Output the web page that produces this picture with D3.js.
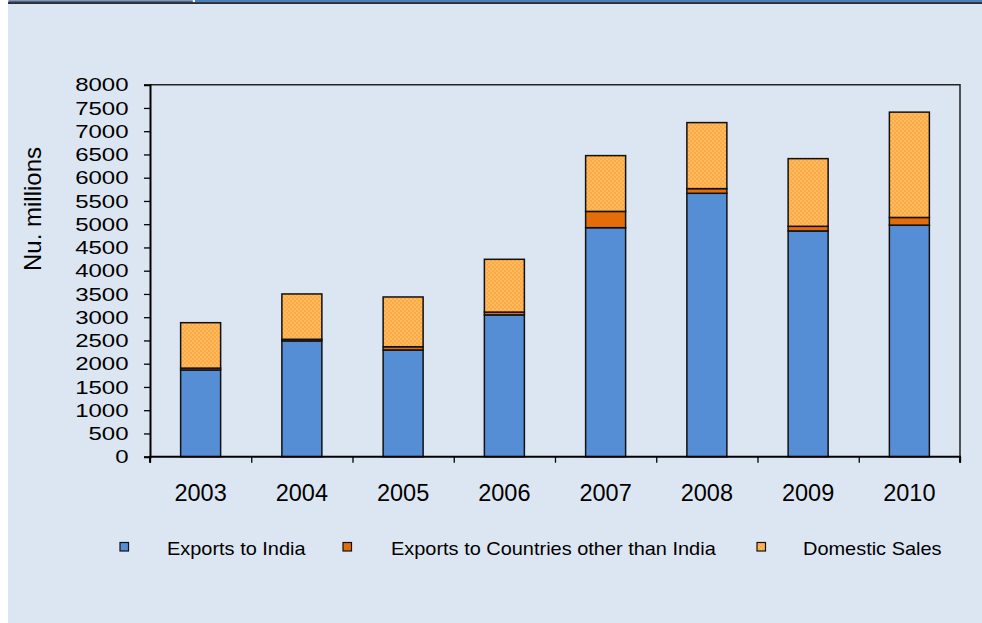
<!DOCTYPE html>
<html><head><meta charset="utf-8">
<script src="https://cdn.jsdelivr.net/npm/d3@7/dist/d3.min.js"></script>
<style>body{margin:0;background:#fff}svg{display:block}text{font-family:"Liberation Sans",Arial,sans-serif;fill:#000}</style>
</head><body><svg id="c" width="982" height="623"></svg>
<script>
const years = ["2003","2004","2005","2006","2007","2008","2009","2010"];
const exportsIndia = [1865, 2490, 2295, 3050, 4925, 5665, 4855, 4980];
const exportsOther = [40, 35, 70, 60, 350, 100, 100, 165];
const domesticSales = [977, 975, 1070, 1135, 1200, 1420, 1455, 2265];
const seriesNames = ["Exports to India", "Exports to Countries other than India", "Domestic Sales"];
const yTicks = d3.range(0, 8001, 500);

const svg = d3.select("#c");
const defs = svg.append("defs");
const pat = defs.append("pattern").attr("id","dots").attr("width",4).attr("height",4).attr("patternUnits","userSpaceOnUse");
pat.append("rect").attr("width",4).attr("height",4).attr("fill","#fbaa45");
pat.append("rect").attr("x",0).attr("y",0).attr("width",2).attr("height",2).attr("fill","#ffb95e");
pat.append("rect").attr("x",2).attr("y",2).attr("width",2).attr("height",2).attr("fill","#ffb95e");

// background
svg.append("rect").attr("width",982).attr("height",623).attr("fill","#fff");
svg.append("rect").attr("x",8).attr("y",0).attr("width",974).attr("height",623).attr("fill","#dce6f2");
svg.append("rect").attr("x",195).attr("y",0).attr("width",787).attr("height",2.3).attr("fill","#4a7ebb");
svg.append("rect").attr("x",8).attr("y",0).attr("width",186).attr("height",2.3).attr("fill","#17375e");
svg.append("rect").attr("x",8.5).attr("y",0.3).attr("width",184.5).attr("height",1.7).attr("fill","none").attr("stroke","#c8d4e8").attr("stroke-width",0.6);
svg.append("rect").attr("x",193).attr("y",0).attr("width",1.6).attr("height",2.3).attr("fill","#fff");
svg.append("rect").attr("x",8).attr("y",2.3).attr("width",974).attr("height",1.5).attr("fill","#000");

const L = 150, R = 960, T = 84.7, B = 456.7;
const x = d3.scaleBand().domain(years).range([L, R]).paddingInner(0.605).paddingOuter(0.3025);
const y = d3.scaleLinear().domain([0, 8000]).range([B, T]);

// frame top/right
svg.append("path").attr("d",`M${L},${T}H${R}V${B}`).attr("fill","none").attr("stroke","#222").attr("stroke-width",1.5);

// stacked bars
const rows = years.map((yr,i)=>({year:yr, a:exportsIndia[i], b:exportsOther[i], c:domesticSales[i]}));
const stack = d3.stack().keys(["a","b","c"])(rows);
const fills = ["#558ed5", "#e46c0a", "url(#dots)"];
stack.forEach((layer, k) => {
  svg.append("g").selectAll("rect").data(layer).join("rect")
    .attr("x", d => x(d.data.year))
    .attr("width", x.bandwidth())
    .attr("y", d => y(d[1]))
    .attr("height", d => y(d[0]) - y(d[1]))
    .attr("fill", fills[k])
    .attr("stroke", "#111").attr("stroke-width", 1.5);
});

// y axis
const ya = svg.append("g").attr("transform",`translate(${L},0)`)
  .call(d3.axisLeft(y).tickValues(yTicks).tickSize(6).tickFormat(""));
ya.select(".domain").attr("stroke","#000").attr("stroke-width",2);
ya.selectAll(".tick line").attr("stroke","#000").attr("stroke-width",1.3);
yTicks.forEach(v => {
  svg.append("text").attr("transform",`translate(128.5,${y(v)}) scale(1,0.8)`)
    .attr("text-anchor","end").attr("dy","0.35em").attr("font-size",24).text(v);
});

// x axis
const tickPos = d3.range(years.length + 1).map(i => L + i * x.step());
const xb = d3.scaleLinear().domain([L, R]).range([L, R]);
const xa = svg.append("g").attr("transform",`translate(0,${B})`)
  .call(d3.axisBottom(xb).tickValues(tickPos).tickSize(6).tickFormat(""));
xa.select(".domain").attr("stroke","#000").attr("stroke-width",2).attr("d",`M${L},6V0H${R}V6`);
xa.selectAll(".tick line").attr("stroke","#000").attr("stroke-width",1.3);
years.forEach(yr => {
  svg.append("text").attr("x", x(yr) + x.bandwidth()/2).attr("y", 501)
    .attr("text-anchor","middle").attr("font-size",23.5).text(yr);
});

// y title
svg.append("text").attr("transform","translate(41,209) rotate(-90)")
  .attr("text-anchor","middle").attr("font-size",24).text("Nu. millions");

// legend
const legX = [120, 343, 757];
const legTX = [167, 391, 803];
const legFill = ["#558ed5", "#e46c0a", "url(#dots)"];
seriesNames.forEach((n,i) => {
  svg.append("rect").attr("x", legX[i]).attr("y", 542.5).attr("width", 8.5).attr("height", 8.5)
    .attr("fill", legFill[i]).attr("stroke","#111").attr("stroke-width",1.2);
  svg.append("text").attr("transform",`translate(${legTX[i]},555) scale(1.05,1)`)
    .attr("font-size",19).text(n);
});
</script></body></html>
